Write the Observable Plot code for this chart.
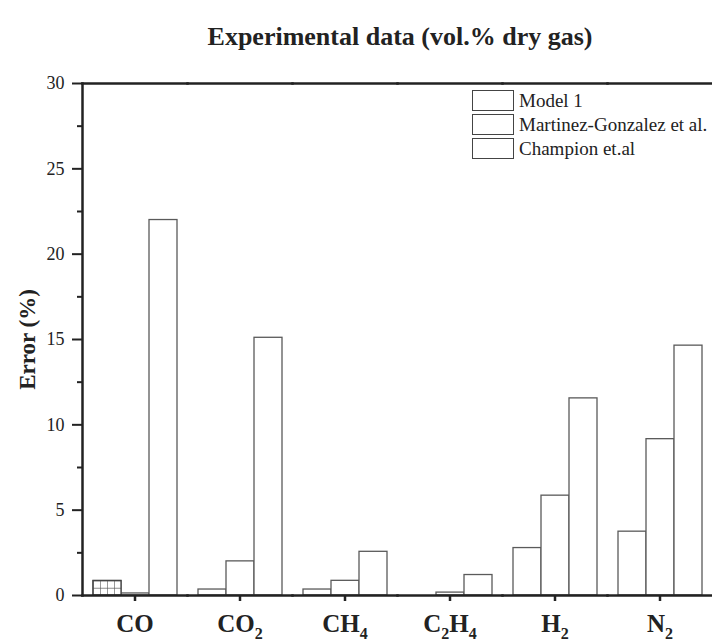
<!DOCTYPE html>
<html><head><meta charset="utf-8">
<script src="https://cdn.jsdelivr.net/npm/d3@7"></script>
<script src="https://cdn.jsdelivr.net/npm/@observablehq/plot@0.6"></script>
<style>
body{margin:0;background:#fff;}
#wrap{position:relative;width:712px;height:644px;font-family:"Liberation Serif",serif;color:#222;}
#title{position:absolute;top:22px;left:400px;transform:translateX(-50%);white-space:nowrap;font-weight:bold;font-size:26px;}
#legend{position:absolute;left:472px;top:88px;font-size:19px;line-height:1;}
.row{display:flex;align-items:center;height:24px;}
.sw{width:42px;height:21px;border:1px solid #444;box-sizing:border-box;margin-right:5px;background:#fff;}
#chart{position:absolute;left:0;top:0;}
</style>
</head><body>
<div id="wrap">
  <div id="chart"></div>
  <div id="title">Experimental data (vol.% dry gas)</div>
  <div id="legend"></div>
</div>
<script>
const gases = ["CO", "CO2", "CH4", "C2H4", "H2", "N2"];
const seriesNames = ["Model 1", "Martinez-Gonzalez et al.", "Champion et.al"];
const model1 = [0.85, 0.35, 0.35, 0, 2.78, 3.74];
const martinez = [0.12, 2.0, 0.86, 0.17, 5.85, 9.16];
const champion = [22.0, 15.1, 2.56, 1.2, 11.55, 14.64];
const majorTicks = [0, 5, 10, 15, 20, 25, 30];
const minorTicks = [2.5, 7.5, 12.5, 17.5, 22.5, 27.5];
const yLabel = "Error (%)";
const patternedGas = "CO";
const patternedSeries = "Model 1";

const valuesBySeries = [model1, martinez, champion];
const data = [];
gases.forEach((g, i) => seriesNames.forEach((s, j) => data.push({gas: g, series: s, value: valuesBySeries[j][i]})));

const plot = Plot.plot({
  width: 712, height: 644,
  marginTop: 83, marginBottom: 49, marginLeft: 82, marginRight: 0,
  style: {fontFamily: "Liberation Serif", color: "#222", background: "transparent", overflow: "visible"},
  fx: {domain: gases, paddingInner: 0, paddingOuter: 0, label: null},
  x: {domain: seriesNames, paddingInner: 0, paddingOuter: 0.375, axis: null},
  y: {domain: [0, 30], axis: null},
  marks: [
    Plot.barY(data, {fx: "gas", x: "series", y: "value", fill: "white", stroke: "#5a5a5a", strokeWidth: 1.3}),
    Plot.barY(data.filter(d => d.gas === patternedGas && d.series === patternedSeries),
      {fx: "gas", x: "series", y: "value", fill: "url(#grid)", stroke: "#444", strokeWidth: 1.3}),
    Plot.frame({anchor: "top", strokeWidth: 2.5}),
    Plot.frame({anchor: "bottom", strokeWidth: 2.5}),
    Plot.frame({anchor: "left", facetAnchor: "left", strokeWidth: 2.5}),
    Plot.axisY(minorTicks, {tickSize: 5, strokeWidth: 2, tickFormat: () => "", label: null}),
    Plot.axisY(majorTicks, {tickSize: 10, strokeWidth: 2, tickPadding: 8, fontSize: 18,
      label: yLabel, labelAnchor: "center", labelOffset: 64, labelArrow: "none"}),
    Plot.axisFx({anchor: "bottom", tickSize: 6, strokeWidth: 2.5, tickPadding: 13, fontSize: 25, fontWeight: "bold", label: null})
  ]
});

const svg = d3.select(plot);
const defs = svg.insert("defs", ":first-child");
const pat = defs.append("pattern").attr("id", "grid")
  .attr("patternUnits", "objectBoundingBox").attr("width", 0.25).attr("height", 0.5);
pat.append("rect").attr("width", 100).attr("height", 100).attr("fill", "white");
pat.append("path").attr("d", "M0,0H100M0,0V100").attr("stroke", "#555").attr("stroke-width", 1.2).attr("fill", "none");

svg.selectAll('g[aria-label="fx-axis tick label"] text').each(function() {
  const s = this.textContent;
  const t = d3.select(this);
  t.text(null);
  let shifted = false;
  for (const m of s.match(/[A-Za-z]+|\d+/g)) {
    const ts = t.append("tspan").text(m);
    if (/\d/.test(m)) { ts.attr("dy", 7).attr("font-size", 16); shifted = true; }
    else if (shifted) { ts.attr("dy", -7); shifted = false; }
  }
});

svg.selectAll('g[aria-label="y-axis label"]').attr("font-size", 23).attr("font-weight", "bold")
  .selectAll("text").each(function() {
    this.textContent = this.textContent.replace(/[\u2190-\u21FF]/g, "").trim();
    this.setAttribute("font-size", 23);
    this.setAttribute("font-weight", "bold");
  });

document.getElementById("chart").appendChild(plot);

const legend = d3.select("#legend");
seriesNames.forEach(s => {
  const r = legend.append("div").attr("class", "row");
  r.append("div").attr("class", "sw");
  r.append("span").text(s);
});
</script>
</body></html>
